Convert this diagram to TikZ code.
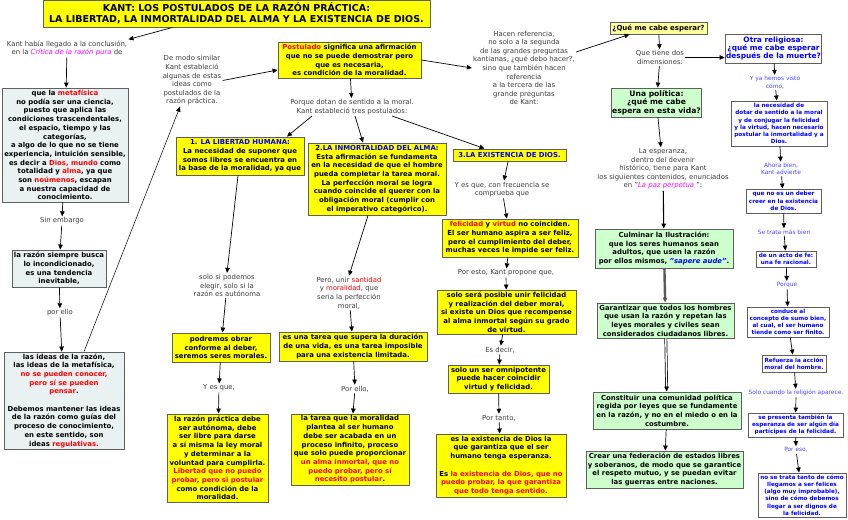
\documentclass[tikz,border=0pt]{standalone}
\usepackage{fontspec}
\setmainfont{DejaVu Sans}
\usetikzlibrary{arrows.meta}
\definecolor{mapyellow}{RGB}{255,255,0}
\definecolor{paleyellow}{RGB}{255,255,153}
\definecolor{mapgreen}{RGB}{204,255,204}
\definecolor{mapgrey}{RGB}{234,241,243}
\definecolor{boxline}{RGB}{95,95,95}
\definecolor{maptext}{RGB}{60,60,60}
\definecolor{mapblue}{RGB}{0,0,255}
\definecolor{lightblue}{RGB}{70,70,255}
\definecolor{mapred}{RGB}{255,0,0}
\definecolor{mapmagenta}{RGB}{255,0,255}
\newcommand{\rojo}[1]{\textcolor{mapred}{#1}}

\begin{document}
\begin{tikzpicture}[x=1pt,y=-1pt,
      ybox/.style={rectangle,draw=boxline,fill=mapyellow,line width=0.9pt,align=center,inner sep=1pt,font=\fontsize{6.9}{8.7}\selectfont\bfseries},
      gbox/.style={ybox,fill=mapgreen},
      lbox/.style={ybox,fill=mapgrey},
      wbox/.style={ybox,fill=white,text=mapblue,font=\fontsize{5.7}{7.2}\selectfont\bfseries},
      note/.style={align=center,inner sep=1pt,text=maptext,font=\fontsize{6.9}{8.6}\selectfont},
      bnote/.style={note,text=lightblue,font=\fontsize{5.9}{7.4}\selectfont},
      >={Triangle[length=5pt,width=4.5pt]},line width=0.7pt
    ]
    \useasboundingbox (0,0) rectangle (848,519);

    \node[ybox,font=\fontsize{9.5}{11}\selectfont\bfseries,minimum width=387pt,minimum height=27pt] (title) at (236.5,13.5) {KANT: LOS POSTULADOS DE LA RAZÓN PRÁCTICA:\\LA LIBERTAD, LA INMORTALIDAD DEL ALMA Y LA EXISTENCIA DE DIOS.};

    % left column
    \node[note] (kant) at (67,48.5) {Kant había llegado a la conclusión,\\en la \textcolor{mapmagenta}{\textit{Crítica de la razón pura}} de};
    \node[lbox,minimum width=126pt,minimum height=114pt] (metaf) at (65,145) {que la \rojo{metafísica}\\no podía ser una ciencia,\\puesto que aplica las\\condiciones trascendentales,\\el espacio, tiempo y las\\categorías,\\a algo de lo que no se tiene\\experiencia, intuición sensible,\\es decir a \rojo{Dios, mundo} como\\totalidad y \rojo{alma}, ya que\\son \rojo{noúmenos}, escapan\\a nuestra capacidad de\\conocimiento.};
    \node[note] (sinemb) at (62,221) {Sin embargo};
    \node[lbox,minimum width=94pt,minimum height=37pt] (razon) at (59,268.5) {la razón siempre busca\\lo incondicionado,\\es una tendencia\\inevitable,};
    \node[note] (porello) at (60,313) {por ello};
    \node[lbox,minimum width=120pt,minimum height=97pt] (ideas) at (64,400.5) {las ideas de la razón,\\las ideas de la metafísica,\\\rojo{no se pueden conocer,}\\\rojo{pero sí se pueden}\\\rojo{pensar}.\\[8.7pt]Debemos mantener las ideas\\de la razón como guías del\\proceso de conocimiento,\\en este sentido, son\\ideas \rojo{regulativas.}};

    % postulados
    \node[note] (demodo) at (192,80.5) {De modo similar\\Kant estableció\\algunas de estas\\ideas como\\postulados de la\\razón práctica.};
    \node[ybox,minimum width=143pt,minimum height=36pt] (postulado) at (349.5,60) {\rojo{Postulado} significa una afirmación\\que no se puede demostrar pero\\que es necesaria,\\es condición de la moralidad.};
    \node[note] (porque) at (352,107) {Porque dotan de sentido a la moral.\\Kant estableció tres postulados:};

    \node[ybox,minimum width=128pt,minimum height=38pt] (libertad) at (240,156) {1. \textcolor{mapblue}{LA LIBERTAD HUMANA}:\\La necesidad de suponer que\\somos libres se encuentra en\\la base de la moralidad, ya que};
    \node[note] (solosi) at (227,285.5) {solo si podemos\\elegir, solo si la\\razón es autónoma};
    \node[ybox,minimum width=98pt,minimum height=29pt] (podremos) at (221,347.5) {podremos obrar\\conforme al deber,\\seremos seres morales.};
    \node[note] (yesque) at (219,388) {Y es que,};
    \node[ybox,minimum width=101pt,minimum height=88pt] (practica) at (217.5,458) {la razón práctica debe\\ser autónoma, debe\\ser libre para darse\\a sí misma la ley moral\\y determinar a la\\voluntad para cumplirla.\\\rojo{Libertad que no puedo}\\\rojo{probar, pero si postular}\\como condición de la\\moralidad.};

    \node[ybox,minimum width=138pt,minimum height=72pt] (alma) at (377,179) {2.\textcolor{mapblue}{LA INMORTALIDAD DEL ALMA}:\\Esta afirmación se fundamenta\\en la necesidad de que el hombre\\pueda completar la tarea moral.\\La perfección moral se logra\\cuando coincide el querer con la\\obligación moral (cumplir con\\el imperativo categórico).};
    \node[note] (pero) at (349,293) {Pero, unir \rojo{santidad}\\y \rojo{moralidad,} que\\seria la perfección\\moral,};
    \node[ybox,minimum width=148pt,minimum height=29pt] (tarea) at (353,346.5) {es una tarea que supera la duración\\de una vida, es una tarea imposible\\para una existencia limitada.};
    \node[note] (porello2) at (355,389) {Por ello,};
    \node[ybox,minimum width=118pt,minimum height=71pt] (infinito) at (350,449.5) {la tarea que la moralidad\\plantea al ser humano\\debe ser acabada en un\\proceso infinito, proceso\\que solo puede proporcionar\\\rojo{un alma inmortal, que no}\\\rojo{puedo probar, pero sí}\\\rojo{necesito postular}.};

    \node[ybox,inner sep=1.5pt,minimum width=113pt,minimum height=12pt] (dios) at (509.5,155) {\textcolor{mapblue}{3.LA EXISTENCIA DE DIOS.}};
    \node[note] (frecuencia) at (502,189.5) {Y es que, con frecuencia se\\comprueba que};
    \node[ybox,minimum width=136pt,minimum height=38pt] (felicidad) at (510,238) {\rojo{felicidad} y \rojo{virtud} no coinciden.\\El ser humano aspira a ser feliz,\\pero el cumplimiento del deber,\\muchas veces le impide ser feliz.};
    \node[note] (poresto) at (506,273) {Por esto, Kant propone que,};
    \node[ybox,minimum width=139pt,minimum height=44pt] (posible) at (506.5,312) {solo será posible unir felicidad\\y realización del deber moral,\\si existe un Dios que recompense\\al alma inmortal según su grado\\de virtud.};
    \node[note] (esdecir) at (500,350) {Es decir,};
    \node[ybox,minimum width=101pt,minimum height=28pt] (omni) at (498.5,379) {solo un ser omnipotente\\puede hacer coincidir\\virtud y felicidad.};
    \node[note] (portanto) at (499,418) {Por tanto,};
    \node[ybox,minimum width=130pt,minimum height=63pt] (existe) at (501,465.5) {es la existencia de Dios la\\que garantiza que el ser\\humano tenga esperanza.\\[8.7pt]Es \rojo{la existencia de Dios, que no}\\\rojo{puedo probar, la que garantiza}\\\rojo{que todo tenga sentido.}};

    % esperanza
    \node[note] (hacen) at (524,68) {Hacen referencia,\\no solo a la segunda\\de las grandes preguntas\\kantianas, ¿qué debo hacer?,\\sino que también hacen\\referencia\\a la tercera de las\\grande preguntas\\de Kant:};
    \node[ybox,fill=paleyellow,font=\fontsize{7}{8.5}\selectfont\bfseries,minimum width=97pt,minimum height=12pt] (esperar) at (658.5,28) {¿Qué me cabe esperar?};
    \node[note] (dimensiones) at (660,57.5) {Que tiene dos\\dimensiones:};
    \node[gbox,font=\fontsize{7.6}{8.5}\selectfont\bfseries,minimum width=87pt,minimum height=29pt] (politica) at (656.5,102.5) {Una política:\\¿qué me cabe\\espera en esta vida?};
    \node[note] (paz) at (663,169) {La esperanza,\\dentro del devenir\\histórico, tiene para Kant\\los siguientes contenidos, enunciados\\en "\textcolor{mapmagenta}{\textit{La paz perpetua}} ":};
    \node[gbox,minimum width=138pt,minimum height=39pt] (ilustracion) at (664,248.5) {Culminar la Ilustración:\\que los seres humanos sean\\adultos, que usen la razón\\por ellos mismos, \textcolor{mapblue}{\textit{"sapere aude"}}.};
    \node[gbox,minimum width=137pt,minimum height=35pt] (ciudadanos) at (665.5,320.5) {Garantizar que todos los hombres\\que usan la razón y repetan las\\leyes morales y civiles sean\\considerados ciudadanos libres.};
    \node[gbox,minimum width=148pt,minimum height=37pt] (comunidad) at (667,410.5) {Constituir una comunidad política\\regida por leyes que se fundamente\\en la razón, y no en el miedo o en la\\costumbre.};
    \node[gbox,minimum width=157pt,minimum height=37pt] (federacion) at (664.5,469.5) {Crear una federación de estados libres\\y soberanos, de modo que se garantice\\el respeto mutuo, y se puedan evitar\\las guerras entre naciones.};

    % religiosa
    \node[wbox,font=\fontsize{7.4}{8.3}\selectfont\bfseries,minimum width=95pt,minimum height=29pt] (religiosa) at (773.5,48.5) {Otra religiosa:\\¿qué me cabe esperar\\después de la muerte?};
    \node[bnote] (yavisto) at (775,82.5) {Y ya hemos visto\\cómo,};
    \node[wbox,minimum width=96pt,minimum height=45pt] (necesidad) at (779,123.5) {la necesidad de\\dotar de sentido a la moral\\y de conjugar la felicidad\\y la virtud, hacen necesario\\postular la inmortalidad y a\\Dios.};
    \node[bnote] (ahora) at (781,169) {Ahora bien,\\Kant advierte};
    \node[wbox,minimum width=75pt,minimum height=24pt] (deber) at (783.5,201) {que no es un deber\\creer en la existencia\\de Dios.};
    \node[bnote] (setrata) at (784,232) {Se trata más bien};
    \node[wbox,minimum width=60pt,minimum height=16pt] (fe) at (786,259) {de un acto de fe:\\una fe racional.};
    \node[bnote] (porque2) at (787,285) {Porque};
    \node[wbox,minimum width=82pt,minimum height=30pt] (sumo) at (788,322) {conduce al\\concepto de sumo bien,\\al cual, el ser humano\\tiende como ser finito.};
    \node[wbox,minimum width=64pt,minimum height=17pt] (refuerza) at (794,363.5) {Refuerza la acción\\moral del hombre.};
    \node[bnote] (solocuando) at (796,393) {Solo cuando la religión aparece.};
    \node[wbox,minimum width=95pt,minimum height=24pt] (presenta) at (795.5,425) {se presenta también la\\esperanza de ser algún día\\partícipes de la felicidad.};
    \node[bnote] (poreso) at (796,450) {Por eso,};
    \node[wbox,minimum width=88pt,minimum height=44pt] (dignos) at (802,495) {no se trata tanto de cómo\\llegamos a ser felices\\(algo muy improbable),\\sino de cómo debemos\\llegar a ser dignos de\\la felicidad.};

    % connectors
    \draw[->] ([xshift=-64pt]title.south) -- (kant.north east);
    \draw[->] (kant) -- (metaf);
    \draw[->] (metaf) -- (sinemb);
    \draw[->] (sinemb) -- (razon);
    \draw[->] (razon) -- (porello);
    \draw[->] (porello) -- (ideas);
    \draw[->,line width=0.5pt] ([xshift=20pt]ideas.north) -- ([xshift=-12pt]demodo.south);
    \draw[->] (demodo.east) -- ([yshift=-10pt]postulado.west);
    \draw[->] (postulado.east) -- (hacen.west);
    \draw[->] (postulado) -- (porque);
    \draw[->] ([xshift=-40pt]porque.south) -- ([xshift=47pt]libertad.north);
    \draw[->] ([xshift=3pt]porque.south) -- ([xshift=-14pt]alma.north);
    \draw[->] ([xshift=40pt]porque.south) -- ([xshift=-25pt]dios.north);
    \draw[->] ([xshift=-2pt]libertad.south) -- (solosi.north);
    \draw[->] (solosi) -- (podremos);
    \draw[->] (podremos) -- (yesque);
    \draw[->] (yesque) -- (practica);
    \draw[->] ([xshift=-9pt]alma.south) -- (pero.north);
    \draw[->] (pero) -- (tarea);
    \draw[->] (tarea) -- (porello2);
    \draw[->] (porello2) -- (infinito);
    \draw[->] (dios) -- (frecuencia);
    \draw[->] (frecuencia) -- (felicidad);
    \draw[->] (felicidad) -- (poresto);
    \draw[->] (poresto) -- (posible);
    \draw[->] (posible) -- (esdecir);
    \draw[->] (esdecir) -- (omni);
    \draw[->] (omni) -- (portanto);
    \draw[->] (portanto) -- (existe);
    \draw[->] ([yshift=16pt]hacen.east) -- ([xshift=20pt]esperar.south west);
    \draw[->] (esperar) -- (dimensiones);
    \draw[->] (dimensiones.east) -- (religiosa.west |- dimensiones.east);
    \draw[->] (dimensiones) -- (politica);
    \draw[->] (politica) -- (paz);
    \draw[->,line width=1.1pt] (paz) -- (ilustracion);
    \draw[->,line width=2.4pt,draw=black!65] (ilustracion) -- (ciudadanos);
    \draw[->,double,double distance=1.4pt] (ciudadanos) -- (comunidad);
    \draw[->] (comunidad) -- (federacion);
    \draw[->] (religiosa) -- (yavisto);
    \draw[->] (yavisto) -- (necesidad);
    \draw[->] (necesidad) -- (ahora);
    \draw[->] (ahora) -- (deber);
    \draw[->] (deber) -- (setrata);
    \draw[->] (setrata) -- (fe);
    \draw[->] (fe) -- (porque2);
    \draw[->] (porque2) -- (sumo);
    \draw[->] (sumo) -- (refuerza);
    \draw[->] (refuerza) -- (solocuando);
    \draw[->] (solocuando) -- (presenta);
    \draw[->] (presenta) -- (poreso);
    \draw[->] (poreso) -- (dignos);
  \end{tikzpicture}
\end{document}
